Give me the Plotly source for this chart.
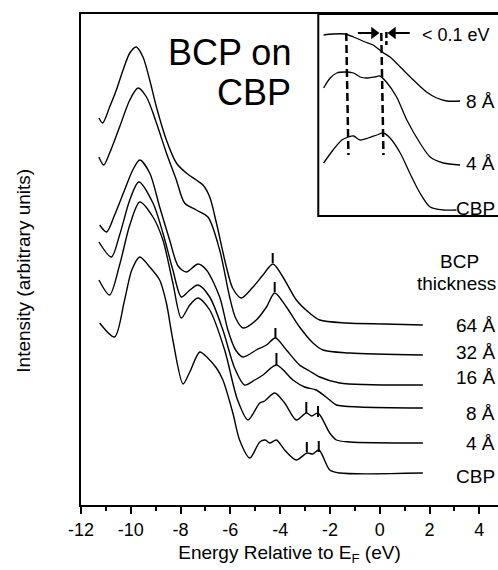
import plotly.graph_objects as go

# ---------------- main panel data (energy in eV, intensity in arbitrary units) ----------------
e_64 = [-11.28, -11.13, -10.85, -10.58, -10.31, -10.04, -9.78, -9.51, -9.24, -8.97, -8.57, -8.17, -7.77,
        -7.37, -7.10, -6.83, -6.56, -6.16, -5.91, -5.56, -5.09, -4.69, -4.29, -3.89, -3.35, -2.82, -2.41,
        -1.34, 0.20, 1.73]
i_64 = [3.87, 3.82, 3.98, 4.15, 4.35, 4.52, 4.58, 4.48, 4.25, 3.98, 3.65, 3.42, 3.32,
        3.25, 3.20, 3.08, 2.82, 2.38, 2.17, 2.07, 2.18, 2.30, 2.41, 2.28, 2.05, 1.92, 1.85,
        1.82, 1.81, 1.80]

e_32 = [-11.28, -11.09, -10.85, -10.45, -10.04, -9.71, -9.37, -8.97, -8.57, -8.17, -7.84, -7.37, -6.90,
        -6.43, -6.03, -5.79, -5.49, -4.96, -4.55, -4.22, -3.75, -3.22, -2.68, -2.28, -1.21, 1.73]
i_32 = [3.48, 3.40, 3.52, 3.78, 4.05, 4.17, 4.08, 3.82, 3.52, 3.25, 3.02, 2.95, 2.88,
        2.55, 2.08, 1.87, 1.77, 1.85, 1.98, 2.12, 1.98, 1.78, 1.62, 1.55, 1.52, 1.50]

e_16 = [-11.25, -10.97, -10.65, -10.25, -9.92, -9.64, -9.24, -8.84, -8.44, -8.10, -7.77, -7.30, -6.96,
        -6.43, -6.10, -5.79, -5.49, -4.96, -4.55, -4.19, -3.75, -3.22, -2.82, -2.41, -1.61, 1.73]
i_16 = [2.80, 2.73, 2.90, 3.15, 3.35, 3.45, 3.32, 2.98, 2.65, 2.39, 2.33, 2.41, 2.35,
        2.08, 1.75, 1.55, 1.48, 1.55, 1.60, 1.67, 1.55, 1.40, 1.34, 1.28, 1.22, 1.20]

e_8 = [-11.28, -10.78, -10.45, -10.04, -9.68, -9.11, -8.71, -8.31, -7.97, -7.67, -7.30, -6.83, -6.30,
       -5.83, -5.43, -5.02, -4.69, -4.15, -3.49, -3.02, -2.55, -2.01, -1.74, -0.81, 1.73]
i_8 = [2.63, 2.48, 2.70, 3.05, 3.23, 3.02, 2.72, 2.35, 2.08, 2.14, 2.20, 2.08, 1.75,
       1.37, 1.20, 1.25, 1.30, 1.40, 1.25, 1.18, 1.15, 1.05, 1.00, 0.98, 0.97]

e_4 = [-11.28, -10.85, -10.45, -10.04, -9.64, -9.11, -8.71, -8.31, -7.97, -7.63, -7.30, -6.83, -6.23,
       -5.71, -5.29, -4.82, -4.62, -4.22, -3.82, -3.35, -2.95, -2.73, -2.48, -2.01, -1.74, -1.21, 1.73]
i_4 = [2.25, 2.10, 2.40, 2.80, 3.03, 2.88, 2.65, 2.22, 1.87, 2.00, 2.07, 1.95, 1.55,
       1.05, 0.85, 1.02, 1.04, 1.12, 1.02, 0.85, 0.92, 0.89, 0.92, 0.72, 0.65, 0.63, 0.62]

e_cbp = [-11.25, -10.65, -10.25, -9.96, -9.64, -9.24, -8.84, -8.57, -8.31, -7.90, -7.63, -7.23, -6.91,
         -6.56, -6.30, -5.90, -5.63, -5.22, -4.82, -4.60, -4.42, -4.15, -3.82, -3.35, -2.92, -2.69,
         -2.44, -2.01, -1.61, 1.73]
i_cbp = [1.82, 1.68, 2.05, 2.35, 2.48, 2.38, 2.25, 2.02, 1.65, 1.21, 1.33, 1.53, 1.47,
         1.37, 1.25, 0.92, 0.65, 0.47, 0.63, 0.65, 0.62, 0.65, 0.55, 0.45, 0.52, 0.51,
         0.55, 0.35, 0.32, 0.32]

series_names = ["64 Å", "32 Å", "16 Å", "8 Å", "4 Å", "CBP"]
series_e = [e_64, e_32, e_16, e_8, e_4, e_cbp]
series_i = [i_64, i_32, i_16, i_8, i_4, i_cbp]

# peak-position tick marks (energy, bottom intensity, top intensity)
mark_e = [-4.30, -4.22, -4.19, -4.15, -2.95, -2.48, -2.93, -2.45]
mark_lo = [2.42, 2.13, 1.67, 1.40, 0.92, 0.88, 0.53, 0.53]
mark_hi = [2.52, 2.23, 1.77, 1.52, 1.03, 0.99, 0.63, 0.64]

# ---------------- inset data ----------------
ie_8 = [-3.27, -3.14, -2.98, -2.86, -2.70, -2.59, -2.47, -2.36, -2.22, -2.04, -1.86, -1.72, -1.58, -1.40]
ii_8 = [1.81, 1.82, 1.82, 1.79, 1.74, 1.71, 1.64, 1.59, 1.49, 1.36, 1.24, 1.18, 1.15, 1.15]
ie_4 = [-3.27, -3.18, -3.09, -2.98, -2.86, -2.77, -2.68, -2.57, -2.50, -2.41, -2.27, -2.13, -1.95, -1.81, -1.63, -1.40]
ii_4 = [1.28, 1.38, 1.43, 1.44, 1.43, 1.39, 1.38, 1.39, 1.40, 1.34, 1.19, 0.96, 0.73, 0.59, 0.53, 0.51]
ie_cbp = [-3.27, -3.14, -3.02, -2.93, -2.86, -2.77, -2.66, -2.54, -2.45, -2.36, -2.22, -2.09, -1.95, -1.81, -1.63, -1.45]
ii_cbp = [0.53, 0.66, 0.76, 0.79, 0.80, 0.76, 0.78, 0.81, 0.83, 0.78, 0.63, 0.43, 0.23, 0.09, 0.06, 0.06]
inset_names = ["8 Å", "4 Å", "CBP"]

dash_e_top = [-2.96, -2.48]
dash_e_bot = [-2.93, -2.45]
dash_top = 1.83
dash_bot = 0.61
small_dash_e = -2.41
small_dash_i = [1.84, 1.71]

# "< 0.1 eV" arrows: tail energy, head energy, level
arrow_r = (-2.80, -2.58)
arrow_l = (-2.09, -2.32)
arrow_level = 1.83

x_ticks = [-12, -10, -8, -6, -4, -2, 0, 2, 4]
x_ticktext = ["-12", "-10", "-8", "-6", "-4", "-2", "0", "2", "4"]

FONT = "Liberation Sans, Arial, sans-serif"

fig = go.Figure()

for e, i in zip(series_e, series_i):
    fig.add_trace(go.Scatter(x=e, y=i, mode="lines", line=dict(color="black", width=1.4, shape="spline", smoothing=0.8),
                             showlegend=False, hoverinfo="skip"))

for e, lo, hi in zip(mark_e, mark_lo, mark_hi):
    fig.add_trace(go.Scatter(x=[e, e], y=[lo, hi], mode="lines", line=dict(color="black", width=2),
                             showlegend=False, hoverinfo="skip"))

for e, i in [(ie_8, ii_8), (ie_4, ii_4), (ie_cbp, ii_cbp)]:
    fig.add_trace(go.Scatter(x=e, y=i, xaxis="x2", yaxis="y2", mode="lines",
                             line=dict(color="black", width=1.3, shape="spline", smoothing=0.8),
                             showlegend=False, hoverinfo="skip"))

for et, eb in zip(dash_e_top, dash_e_bot):
    fig.add_trace(go.Scatter(x=[et, eb], y=[dash_top, dash_bot], xaxis="x2", yaxis="y2", mode="lines",
                             line=dict(color="black", width=2.5, dash="8px,4px"),
                             showlegend=False, hoverinfo="skip"))
fig.add_trace(go.Scatter(x=[small_dash_e, small_dash_e], y=small_dash_i, xaxis="x2", yaxis="y2", mode="lines",
                         line=dict(color="black", width=2.5, dash="6px,3px"),
                         showlegend=False, hoverinfo="skip"))

for (tail, head), sym in [(arrow_r, "triangle-right"), (arrow_l, "triangle-left")]:
    fig.add_trace(go.Scatter(x=[tail, head], y=[arrow_level, arrow_level], xaxis="x2", yaxis="y2", mode="lines",
                             line=dict(color="black", width=2), showlegend=False, hoverinfo="skip"))
    fig.add_trace(go.Scatter(x=[head], y=[arrow_level], xaxis="x2", yaxis="y2", mode="markers",
                             marker=dict(symbol=sym, size=11, color="black"), showlegend=False, hoverinfo="skip"))

annotations = []
# right-hand labels (right aligned near the window edge)
label_y = [0.365, 0.310, 0.259, 0.187, 0.126, 0.058]
for name, py in zip(series_names, label_y):
    annotations.append(dict(x=0.997, y=py, xref="paper", yref="paper", text=name, showarrow=False,
                            xanchor="right", yanchor="middle", font=dict(size=19, color="black", family=FONT)))
annotations.append(dict(x=0.908, y=0.496, xref="paper", yref="paper", text="BCP", showarrow=False,
                        xanchor="center", yanchor="middle", font=dict(size=19, color="black", family=FONT)))
annotations.append(dict(x=0.901, y=0.452, xref="paper", yref="paper", text="thickness", showarrow=False,
                        xanchor="center", yanchor="middle", font=dict(size=19, color="black", family=FONT)))
# big title
annotations.append(dict(x=0.508, y=0.921, xref="paper", yref="paper", text="BCP on", showarrow=False,
                        xanchor="right", yanchor="middle", font=dict(size=36, color="black", family=FONT)))
annotations.append(dict(x=0.508, y=0.841, xref="paper", yref="paper", text="CBP", showarrow=False,
                        xanchor="right", yanchor="middle", font=dict(size=36, color="black", family=FONT)))
# y title
annotations.append(dict(x=-0.137, y=0.477, xref="paper", yref="paper", text="Intensity (arbitrary units)",
                        showarrow=False, textangle=-90, xanchor="center", yanchor="middle",
                        font=dict(size=19, color="black", family=FONT)))
# inset labels
inset_label_y = [1.15, 0.53, 0.08]
for name, iy in zip(inset_names, inset_label_y):
    annotations.append(dict(x=0.997, y=iy, xref="paper", yref="y2", text=name, showarrow=False,
                            xanchor="right", yanchor="middle", font=dict(size=19, color="black", family=FONT)))
annotations.append(dict(x=-1.95, y=1.81, xref="x2", yref="y2", text="< 0.1 eV", showarrow=False,
                        xanchor="left", yanchor="middle", font=dict(size=18, color="black", family=FONT)))

fig.update_layout(
    width=498, height=570,
    margin=dict(l=81, r=0, t=14, b=65),
    paper_bgcolor="white", plot_bgcolor="white",
    font=dict(family=FONT, color="black", size=18),
    showlegend=False,
    xaxis=dict(range=[-12, 4.75], tickvals=x_ticks, ticktext=x_ticktext, ticks="outside", ticklen=7,
               tickwidth=1.5, tickcolor="black", showline=True, linewidth=2, linecolor="black", mirror=True,
               showgrid=False, zeroline=False, tickfont=dict(size=18, family=FONT, color="black"),
               minor=dict(dtick=1, tick0=-12, ticks="outside", ticklen=4, tickwidth=1.5, tickcolor="black", showgrid=False),
               title=dict(text="Energy Relative to E<sub>F</sub> (eV)", font=dict(size=19, family=FONT, color="black"),
                          standoff=7)),
    yaxis=dict(range=[0, 4.91], showticklabels=False, ticks="", showline=True, linewidth=2, linecolor="black",
               showgrid=False, zeroline=False),
    xaxis2=dict(domain=[0.569, 1], range=[-3.343, -0.881], visible=False, anchor="y2"),
    yaxis2=dict(domain=[0.5886, 1], range=[0, 2.02], visible=False, anchor="x2"),
    annotations=annotations,
    shapes=[dict(type="rect", xref="paper", yref="paper", x0=0.569, x1=1.05, y0=0.5886, y1=1.0,
                 line=dict(color="black", width=2), fillcolor="rgba(0,0,0,0)")],
)

fig.write_html("out.html")
